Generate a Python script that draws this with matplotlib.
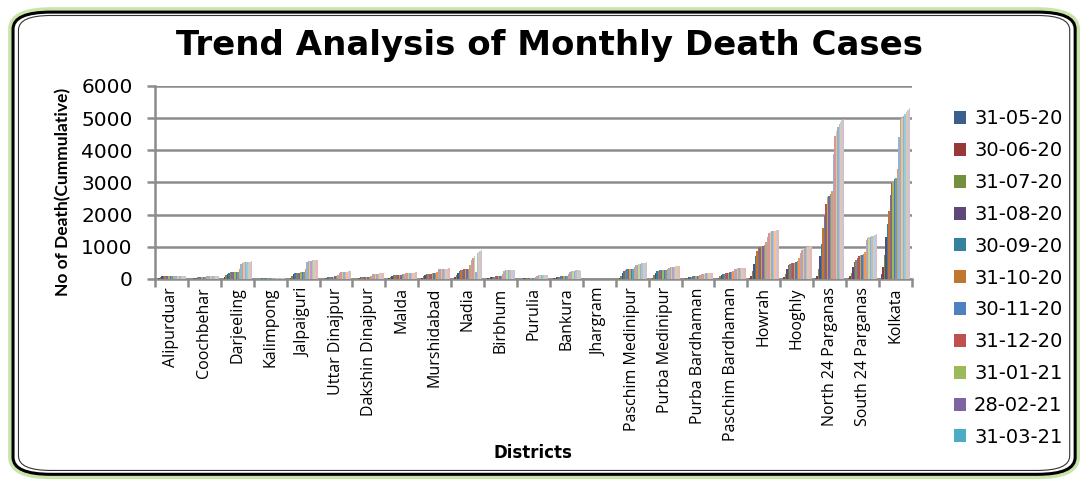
import numpy as np
import matplotlib.pyplot as plt
from matplotlib.patches import FancyBboxPatch

districts = ['Alipurduar', 'Coochbehar', 'Darjeeling', 'Kalimpong', 'Jalpaiguri',
             'Uttar Dinajpur', 'Dakshin Dinajpur', 'Malda', 'Murshidabad', 'Nadia',
             'Birbhum', 'Purulia', 'Bankura', 'Jhargram', 'Paschim Medinipur',
             'Purba Medinipur', 'Purba Bardhaman', 'Paschim Bardhaman', 'Howrah',
             'Hooghly', 'North 24 Parganas', 'South 24 Parganas', 'Kolkata']

dates = ['31-05-20', '30-06-20', '31-07-20', '31-08-20', '30-09-20', '31-10-20',
         '30-11-20', '31-12-20', '31-01-21', '28-02-21', '31-03-21', '30-04-21',
         '31-05-21', '30-06-21', '31-07-21', '31-08-21', '30-09-21', '31-10-21',
         '30-11-21', '31-12-21']

# cumulative deaths per district, one value per month-end above
deaths = {
    'Alipurduar':        [5, 40, 75, 82, 85, 88, 90, 90, 91, 92, 92, 93, 93, 93, 94, 94, 94, 95, 95, 95],
    'Coochbehar':        [2, 10, 25, 35, 45, 55, 65, 70, 72, 74, 76, 80, 90, 95, 98, 100, 100, 101, 102, 103],
    'Darjeeling':        [5, 60, 130, 170, 200, 205, 210, 215, 220, 225, 230, 300, 480, 500, 515, 525, 530, 535, 540, 545],
    'Kalimpong':         [0, 2, 5, 10, 15, 18, 20, 22, 23, 24, 25, 26, 27, 28, 29, 30, 30, 31, 31, 32],
    'Jalpaiguri':        [5, 40, 100, 150, 180, 190, 195, 200, 205, 210, 220, 320, 520, 545, 560, 570, 580, 585, 590, 600],
    'Uttar Dinajpur':    [2, 10, 30, 45, 55, 60, 65, 70, 75, 80, 85, 120, 200, 215, 220, 225, 230, 232, 235, 240],
    'Dakshin Dinajpur':  [2, 10, 25, 40, 50, 55, 60, 65, 70, 72, 75, 100, 150, 160, 165, 168, 170, 172, 174, 176],
    'Malda':             [10, 40, 70, 90, 110, 120, 125, 130, 132, 135, 140, 160, 180, 185, 190, 192, 195, 198, 200, 205],
    'Murshidabad':       [10, 40, 80, 110, 140, 150, 160, 170, 175, 180, 185, 220, 300, 310, 315, 318, 320, 322, 325, 328],
    'Nadia':             [10, 50, 120, 200, 260, 280, 290, 300, 305, 310, 320, 450, 600, 650, 700, 210, 800, 850, 870, 890],
    'Birbhum':           [5, 15, 35, 50, 65, 75, 80, 85, 88, 90, 95, 160, 260, 270, 275, 280, 282, 285, 288, 290],
    'Purulia':           [2, 5, 10, 15, 20, 25, 28, 30, 32, 35, 40, 70, 100, 110, 115, 118, 120, 122, 124, 126],
    'Bankura':           [5, 15, 35, 50, 65, 75, 80, 85, 88, 90, 95, 150, 220, 240, 250, 260, 265, 270, 280, 240],
    'Jhargram':          [0, 0, 1, 1, 2, 2, 2, 3, 3, 3, 3, 4, 5, 5, 5, 6, 6, 6, 6, 6],
    'Paschim Medinipur': [2, 20, 100, 180, 250, 290, 300, 305, 310, 315, 320, 360, 420, 450, 470, 480, 490, 500, 510, 520],
    'Purba Medinipur':   [5, 40, 120, 200, 240, 260, 270, 275, 280, 285, 290, 310, 340, 360, 370, 380, 385, 390, 395, 400],
    'Purba Bardhaman':   [5, 20, 45, 60, 70, 75, 78, 80, 82, 85, 90, 110, 140, 160, 170, 175, 178, 180, 185, 190],
    'Paschim Bardhaman': [5, 30, 80, 120, 150, 170, 180, 190, 200, 205, 210, 250, 300, 320, 330, 335, 340, 345, 350, 355],
    'Howrah':            [20, 100, 250, 480, 700, 880, 960, 1000, 1020, 1040, 1060, 1150, 1300, 1420, 1460, 1480, 1490, 1500, 1510, 1530],
    'Hooghly':           [10, 60, 160, 300, 420, 470, 490, 500, 510, 530, 560, 650, 800, 900, 950, 975, 990, 1000, 1010, 1020],
    'North 24 Parganas': [30, 100, 320, 700, 1100, 1600, 1970, 2330, 2540, 2590, 2640, 2740, 3880, 4450, 4600, 4710, 4810, 4880, 4930, 4970],
    'South 24 Parganas': [20, 80, 200, 380, 520, 580, 640, 700, 735, 760, 780, 830, 1200, 1260, 1290, 1310, 1330, 1345, 1370, 1400],
    'Kolkata':           [150, 380, 750, 1290, 1700, 2100, 2610, 2970, 3050, 3095, 3150, 3420, 4400, 4930, 5010, 5080, 5140, 5200, 5260, 5320],
}

colors = ['#3A5F8F', '#943B39', '#748F3E', '#5D4878', '#33819A', '#C27431',
          '#4F81BD', '#C0504D', '#9BBB59', '#8064A2', '#4BACC6', '#F79646',
          '#95B3D7', '#D99694', '#C3D69B', '#B3A2C7', '#93CDDD', '#FAC08F',
          '#B9CDE5', '#E6B9B8']

fig = plt.figure(figsize=(10.86, 4.84), dpi=100)

# rounded frame around the whole chart, kept behind the axes
box = dict(boxstyle='round,pad=0,rounding_size=0.035', transform=fig.transFigure)
glow = FancyBboxPatch((0.012, 0.02), 0.978, 0.955, facecolor='none', edgecolor='#C9E3A8',
                      linewidth=7, zorder=-3, **box)
frame = FancyBboxPatch((0.012, 0.02), 0.978, 0.955, facecolor='white', edgecolor='black',
                       linewidth=2.2, zorder=-2, **box)
inner = FancyBboxPatch((0.017, 0.028), 0.968, 0.94, facecolor='none', edgecolor='#333333',
                       linewidth=0.8, zorder=-1,
                       boxstyle='round,pad=0,rounding_size=0.03', transform=fig.transFigure)
fig.patches.extend([glow, frame, inner])

ax = fig.add_axes([0.1427, 0.4236, 0.697, 0.3988])
ax.set_facecolor('none')

n = len(dates)
x = np.arange(len(districts))
group_w = 0.9
bw = group_w / n
for j, d in enumerate(dates):
    vals = [deaths[name][j] for name in districts]
    ax.bar(x - group_w / 2 + bw * (j + 0.5), vals, width=bw, color=colors[j],
           label=d, linewidth=0, zorder=3)

ax.set_xlim(-0.5, len(districts) - 0.5)
ax.set_ylim(0, 6000)
ax.set_yticks(range(0, 6001, 1000))
ax.yaxis.grid(True, color='#8C8C8C', linewidth=1.8, zorder=0)
ax.set_axisbelow(True)
for s in ['top', 'right']:
    ax.spines[s].set_visible(False)
ax.spines['left'].set_color('#8C8C8C')
ax.spines['left'].set_linewidth(1.8)
ax.spines['bottom'].set_color('#8C8C8C')
ax.spines['bottom'].set_linewidth(1.8)

# category labels at the centres, tick marks at the boundaries
ax.set_xticks(x)
ax.set_xticklabels(districts, rotation=90, fontsize=11.5,
                   family=['Open Sans', 'DejaVu Sans'])
ax.tick_params(axis='x', length=0, pad=6)
ax.set_xticks(np.arange(-0.5, len(districts)), minor=True)
ax.tick_params(axis='x', which='minor', length=6, width=1.8, color='#8C8C8C')
ax.tick_params(axis='y', length=6, width=1.8, color='#8C8C8C', labelsize=14.5, pad=10)

ax.set_ylabel('No of Death(Cummulative)', fontsize=12.5, fontweight='bold',
              family=['Lato', 'DejaVu Sans'])
ax.yaxis.set_label_coords(-0.111, 0.45)
fig.text(0.491, 0.064, 'Districts', ha='center', va='center',
         fontsize=12, fontweight='bold')
fig.text(0.506, 0.905, 'Trend Analysis of Monthly Death Cases', ha='center', va='center',
         fontsize=24.5, fontweight='bold', family='DejaVu Sans')

handles, labels = ax.get_legend_handles_labels()
fig.legend(handles[:11], labels[:11], loc='upper left', bbox_to_anchor=(0.862, 0.81),
           frameon=False, fontsize=14, handlelength=0.65, handleheight=0.65,
           labelspacing=0.66, handletextpad=0.4)

fig.savefig('out.png', dpi=100)
